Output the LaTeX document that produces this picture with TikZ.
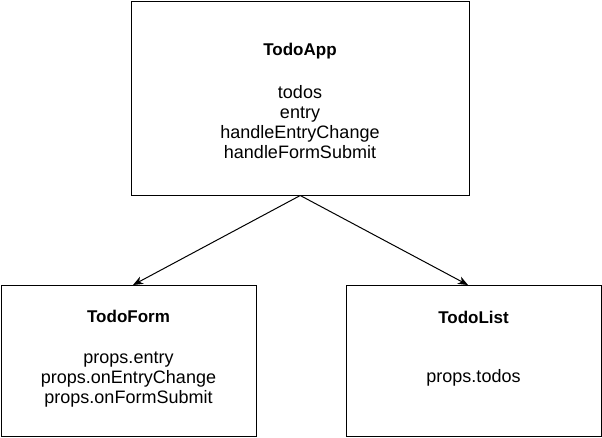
\documentclass[tikz,border=0pt]{standalone}
\usepackage{fontspec}
\setmainfont{Liberation Sans}
\usetikzlibrary{arrows.meta}

\begin{document}
\begin{tikzpicture}[x=1pt,y=-1pt,
    component/.style ={rectangle, draw, line width=1pt, inner sep=0pt},
    title/.style ={anchor=base, inner sep=0pt, font=\fontsize{17}{20}\selectfont\bfseries},
    field/.style ={anchor=base, inner sep=0pt, font=\fontsize{18}{20}\selectfont},
    link/.style ={line width=1pt, -{Stealth[length=10pt,width=8pt,inset=3pt]}}]
   \useasboundingbox (0,0) rectangle (602,437);
   \node[component, minimum width=337.5pt, minimum height=193.5pt] (app) at (300.25,98.25) {};
   \node[component, minimum width=255pt, minimum height=150.5pt] (form) at (128.5,360.75) {};
   \node[component, minimum width=255pt, minimum height=150.5pt] (list) at (473.5,360.75) {};
   % TodoApp
   \node[title] (appTitle) at (300,55) {TodoApp};
   \node[field] (appTodos) at (300,98) {todos};
   \node[field] (appEntry) at (300,118) {entry};
   \node[field] (appChange) at (300,138) {handleEntryChange};
   \node[field] (appSubmit) at (300,158) {handleFormSubmit};
   % TodoForm
   \node[title] (formTitle) at (128.5,322) {TodoForm};
   \node[field] (formEntry) at (128.5,363) {props.entry};
   \node[field] (formChange) at (128.5,383) {props.onEntryChange};
   \node[field] (formSubmit) at (128.5,403) {props.onFormSubmit};
   % TodoList
   \node[title] (listTitle) at (473.5,323) {TodoList};
   \node[field] (listTodos) at (473.5,382) {props.todos};
   \draw[link] (app.south) -- ([xshift=4.5pt]form.north);
   \draw[link] (app.south) -- ([xshift=-5.5pt]list.north);
 \end{tikzpicture}
\end{document}
